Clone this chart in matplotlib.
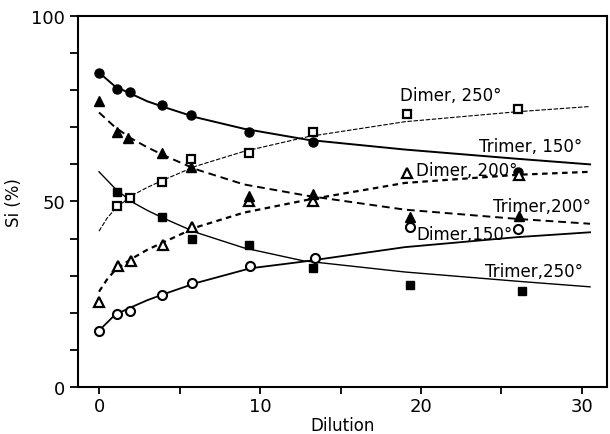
import matplotlib
matplotlib.use("Agg")
import matplotlib.pyplot as plt

# measured points (dilution, Si %)
trimer150_x = [0, 1.1, 1.9, 3.9, 5.7, 9.3, 13.3, 26.0]
trimer150_y = [84.5, 80.2, 79.4, 75.9, 73.2, 68.8, 66.1, 58.0]

dimer250_x = [1.1, 1.9, 3.9, 5.7, 9.3, 13.3, 19.1, 26.0]
dimer250_y = [48.8, 51.0, 55.3, 61.5, 63.1, 68.8, 73.7, 75.0]

trimer200_x = [0, 1.1, 1.8, 3.9, 5.7, 9.3, 13.3, 19.3, 26.1]
trimer200_y = [77.2, 68.8, 67.0, 63.1, 59.3, 51.5, 52.0, 45.8, 46.0]

dimer200_x = [0, 1.2, 2.0, 4.0, 5.8, 9.3, 13.3, 19.1, 26.1]
dimer200_y = [23.0, 32.5, 33.9, 38.2, 43.1, 50.1, 50.1, 57.8, 57.2]

dimer150_x = [0, 1.1, 1.9, 3.9, 5.8, 9.4, 13.4, 19.3, 26.0]
dimer150_y = [15.2, 19.8, 20.6, 24.9, 27.9, 32.5, 34.7, 43.0, 42.5]

trimer250_x = [1.1, 3.9, 5.8, 9.3, 13.3, 19.3, 26.3]
trimer250_y = [52.6, 45.8, 39.8, 38.2, 32.2, 27.6, 26.0]

# drawn curves
c_trimer150_x = [0.2, 1, 2, 3, 4, 6, 9, 13, 19, 26, 30.5]
c_trimer150_y = [84.0, 81.0, 79.0, 77.0, 75.5, 72.7, 69.6, 66.6, 64.0, 61.5, 60.0]

c_dimer250_x = [0, 0.5, 1, 2, 3, 4, 6, 9, 13, 19, 26, 30.5]
c_dimer250_y = [42.0, 45.5, 48.0, 51.5, 53.8, 55.8, 59.5, 63.5, 67.5, 71.5, 74.2, 75.6]

c_trimer200_x = [0, 1, 2, 3, 4, 6, 9, 13, 19, 26, 30.5]
c_trimer200_y = [74.0, 70.0, 67.0, 64.6, 62.5, 58.7, 54.6, 51.5, 47.8, 45.3, 44.0]

c_dimer200_x = [0, 0.5, 1, 2, 3, 4, 6, 9, 13, 19, 26, 30.5]
c_dimer200_y = [25.7, 29.0, 31.5, 34.5, 37.0, 39.0, 43.0, 47.0, 50.5, 55.0, 57.2, 58.0]

c_dimer150_x = [0, 1, 2, 3, 4, 6, 9.4, 12.7, 19, 26, 30.5]
c_dimer150_y = [15.2, 19.5, 21.5, 23.4, 25.0, 28.0, 32.0, 33.8, 37.7, 40.4, 41.7]

c_trimer250_x = [0, 1, 2, 3, 4, 6, 9, 12.7, 19, 26, 30.5]
c_trimer250_y = [58.0, 53.5, 50.0, 47.6, 45.5, 41.7, 37.5, 34.0, 31.0, 28.5, 27.0]

labels = ["Dimer, 250°", "Trimer, 150°", "Dimer, 200°", "Trimer,200°", "Dimer,150°", "Trimer,250°"]
label_x = [18.7, 23.6, 19.7, 24.5, 19.7, 24.0]
label_y = [78.6, 65.0, 58.4, 48.8, 41.2, 31.4]

fig = plt.figure(figsize=(6.1, 4.35), dpi=100)
ax = fig.add_axes([0.128, 0.108, 0.867, 0.853])

# curves
ax.plot(c_trimer150_x, c_trimer150_y, color="black", lw=1.4, ls="-")
ax.plot(c_dimer250_x, c_dimer250_y, color="black", lw=0.8, ls=(0, (4, 1.5)))
ax.plot(c_trimer200_x, c_trimer200_y, color="black", lw=1.4, ls=(0, (4, 2.5)))
ax.plot(c_dimer200_x, c_dimer200_y, color="black", lw=1.6, ls=(0, (2.5, 2)))
ax.plot(c_dimer150_x, c_dimer150_y, color="black", lw=1.3, ls="-")
ax.plot(c_trimer250_x, c_trimer250_y, color="black", lw=1.0, ls="-")

# markers
ax.plot(trimer150_x, trimer150_y, "o", ms=6.5, mfc="black", mec="black", ls="none")
ax.plot(dimer250_x, dimer250_y, "s", ms=5.5, mfc="white", mec="black", mew=1.6, ls="none")
ax.plot(dimer200_x, dimer200_y, "^", ms=7, mfc="white", mec="black", mew=1.6, ls="none")
ax.plot(trimer200_x, trimer200_y, "^", ms=7.5, mfc="black", mec="black", ls="none")
ax.plot(dimer150_x, dimer150_y, "o", ms=6.5, mfc="white", mec="black", mew=1.5, ls="none")
ax.plot(trimer250_x, trimer250_y, "s", ms=6, mfc="black", mec="black", ls="none")

for t, x, y in zip(labels, label_x, label_y):
    ax.text(x, y, t, fontsize=12, va="center", ha="left")

ax.set_xlim(-1.3, 31.55)
ax.set_ylim(0, 100)
ax.set_xticks([0, 10, 20, 30])
ax.set_xticks([5, 15, 25], minor=True)
ax.set_yticks([0, 50, 100])
ax.set_yticks([10, 20, 30, 40, 60, 70, 80, 90], minor=True)
ax.tick_params(which="both", direction="out", length=6, width=1.3, labelsize=13)
ax.tick_params(axis="x", which="both", length=5, pad=2)
for s in ax.spines.values():
    s.set_linewidth(1.5)

ax.set_xlabel("Dilution", fontsize=12, labelpad=1)
ax.set_ylabel("Si (%)", fontsize=12, labelpad=6)

fig.savefig("out.png", dpi=100)
